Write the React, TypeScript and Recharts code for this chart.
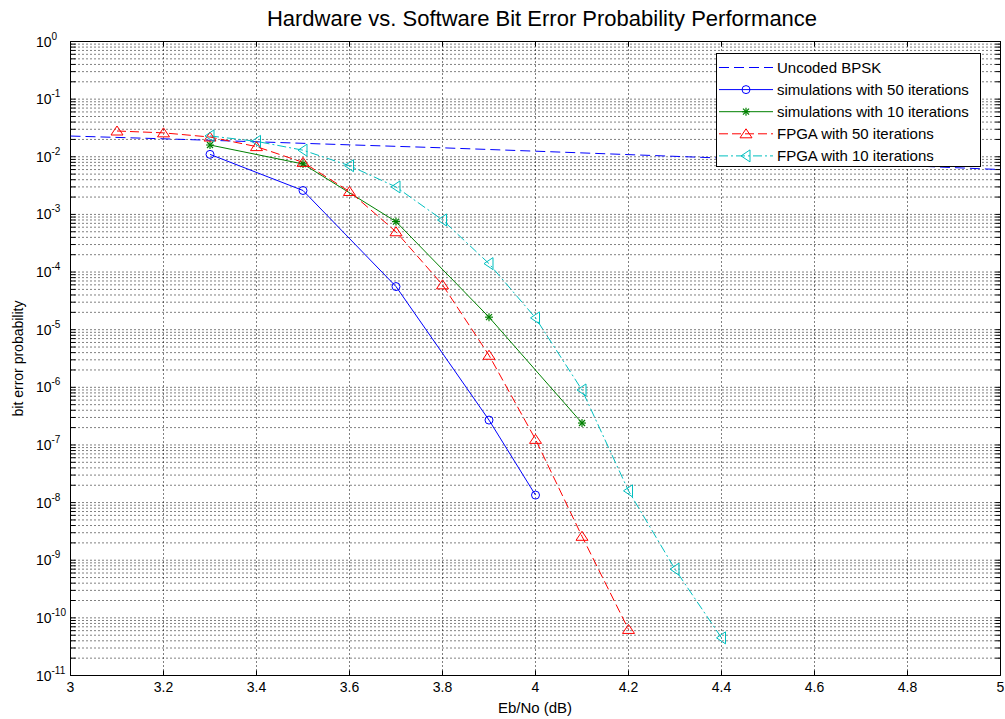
import React from 'react';
import { LineChart, Line, XAxis, YAxis, CartesianGrid, ReferenceLine, ReferenceArea, Legend } from 'recharts';

const FONT = '"Liberation Sans", Arial, Helvetica, sans-serif';

const TITLE = 'Hardware vs. Software Bit Error Probability Performance';
const X_LABEL = 'Eb/No (dB)';
const Y_LABEL = 'bit error probability';

const xTicks = [3, 3.2, 3.4, 3.6, 3.8, 4, 4.2, 4.4, 4.6, 4.8, 5];
const yExponents = [-11, -10, -9, -8, -7, -6, -5, -4, -3, -2, -1, 0];
const yTicks = yExponents.map((e) => Math.pow(10, e));

const seriesNames = [
  'Uncoded BPSK',
  'simulations with 50 iterations',
  'simulations with 10 iterations',
  'FPGA with 50 iterations',
  'FPGA with 10 iterations',
];

const bpskEbNo = [3, 3.2, 3.4, 3.6, 3.8, 4, 4.2, 4.4, 4.6, 4.8, 5];
const bpskBer = [0.0229, 0.0205, 0.0182, 0.0161, 0.0143, 0.0125, 0.0109, 0.0095, 0.0082, 0.007, 0.006];

const sim50EbNo = [3.3, 3.5, 3.7, 3.9, 4.0];
const sim50Ber = [1.1e-2, 2.6e-3, 5.6e-5, 2.7e-7, 1.35e-8];

const sim10EbNo = [3.3, 3.5, 3.7, 3.9, 4.1];
const sim10Ber = [1.6e-2, 7.5e-3, 7.5e-4, 1.65e-5, 2.4e-7];

const fpga50EbNo = [3.1, 3.2, 3.3, 3.4, 3.5, 3.6, 3.7, 3.8, 3.9, 4.0, 4.1, 4.2];
const fpga50Ber = [2.8e-2, 2.6e-2, 2.2e-2, 1.5e-2, 8.0e-3, 2.5e-3, 5.0e-4, 6.0e-5, 3.6e-6, 1.25e-7, 2.6e-9, 6.3e-11];

const fpga10EbNo = [3.3, 3.4, 3.5, 3.6, 3.7, 3.8, 3.9, 4.0, 4.1, 4.2, 4.3, 4.4];
const fpga10Ber = [2.3e-2, 1.85e-2, 1.3e-2, 7.0e-3, 3.0e-3, 8.0e-4, 1.4e-4, 1.6e-5, 9.0e-7, 1.6e-8, 7.0e-10, 4.5e-11];

const COLORS = ['#0000FF', '#0000FF', '#008000', '#FF0000', '#00BFBF'];
const DASHES = ['10 5', undefined, undefined, '9 4', '9 3 2 3'];

const toPoints = (xs: number[], ys: number[]) => xs.map((x, i) => ({ x, y: ys[i] }));

const minorValues: number[] = [];
yExponents.slice(0, -1).forEach((e) => {
  for (let k = 1; k <= 9; k++) minorValues.push(k * Math.pow(10, e));
});
minorValues.push(1);

const TICK_DX = 0.011; // inward tick length in x units
const TICK_FY = 1.22; // inward tick length as factor in y

type MarkerKind = 'none' | 'circle' | 'star' | 'triUp' | 'triLeft';
const MARKERS: MarkerKind[] = ['none', 'circle', 'star', 'triUp', 'triLeft'];

function Marker({ kind, cx, cy, color }: { kind: MarkerKind; cx: number; cy: number; color: string }) {
  if (kind === 'circle') return <circle cx={cx} cy={cy} r={4} fill="none" stroke={color} strokeWidth={1} />;
  if (kind === 'star')
    return (
      <g stroke={color} strokeWidth={1.2}>
        <line x1={cx} y1={cy - 4} x2={cx} y2={cy + 4} />
        <line x1={cx - 4} y1={cy} x2={cx + 4} y2={cy} />
        <line x1={cx - 3} y1={cy - 3} x2={cx + 3} y2={cy + 3} />
        <line x1={cx - 3} y1={cy + 3} x2={cx + 3} y2={cy - 3} />
      </g>
    );
  if (kind === 'triUp')
    return (
      <polygon
        points={`${cx},${cy - 5} ${cx - 6},${cy + 4} ${cx + 6},${cy + 4}`}
        fill="none"
        stroke={color}
        strokeWidth={1}
      />
    );
  if (kind === 'triLeft')
    return (
      <polygon
        points={`${cx - 5},${cy} ${cx + 4},${cy - 6} ${cx + 4},${cy + 6}`}
        fill="none"
        stroke={color}
        strokeWidth={1}
      />
    );
  return null;
}

const makeDot = (kind: MarkerKind, color: string) => (props: any) => {
  const { cx, cy, index } = props;
  if (cx == null || cy == null) return <g key={`d-${index}`} />;
  return (
    <g key={`d-${kind}-${index}`}>
      <Marker kind={kind} cx={cx} cy={cy} color={color} />
    </g>
  );
};

function YTick(props: any) {
  const { x, y, payload } = props;
  const exp = Math.round(Math.log10(payload.value));
  const bx = x - 19;
  return (
    <g>
      <text x={bx} y={y + 5} textAnchor="end" fontSize={14} fill="#000" fontFamily={FONT}>
        10
      </text>
      <text x={bx} y={y - 2} textAnchor="start" fontSize={10} fill="#000" fontFamily={FONT}>
        {String(exp)}
      </text>
    </g>
  );
}

function LegendBox() {
  const rowY = (i: number) => 14.5 + i * 22.1;
  return (
    <svg width={266} height={115} style={{ display: 'block' }}>
      <rect x={0.5} y={0.5} width={264} height={113} fill="#fff" stroke="#000" strokeWidth={1} />
      {seriesNames.map((name, i) => (
        <g key={name}>
          <line
            x1={3}
            y1={rowY(i)}
            x2={57}
            y2={rowY(i)}
            stroke={COLORS[i]}
            strokeWidth={1}
            strokeDasharray={DASHES[i]}
          />
          <Marker kind={MARKERS[i]} cx={30} cy={rowY(i)} color={COLORS[i]} />
          <text x={61} y={rowY(i) + 5} fontSize={15} fill="#000" fontFamily={FONT}>
            {name}
          </text>
        </g>
      ))}
    </svg>
  );
}

const seriesData = [
  toPoints(bpskEbNo, bpskBer),
  toPoints(sim50EbNo, sim50Ber),
  toPoints(sim10EbNo, sim10Ber),
  toPoints(fpga50EbNo, fpga50Ber),
  toPoints(fpga10EbNo, fpga10Ber),
];

export default function App() {
  return (
    <div style={{ position: 'absolute', left: 0, top: 0, width: 1005, height: 719, background: '#fff', fontFamily: FONT }}>
      <LineChart
        width={1005}
        height={719}
        margin={{ top: 41.5, right: 4.5, left: 0.5, bottom: 0 }}
        style={{ fontFamily: FONT }}
      >
        <CartesianGrid horizontal={false} vertical stroke="#000" strokeDasharray="1 3" />
        {minorValues.map((v) => (
          <ReferenceLine key={`g-${v}`} y={v} stroke="#000" strokeDasharray="1 3" strokeWidth={1} />
        ))}
        <XAxis
          type="number"
          dataKey="x"
          domain={[3, 5]}
          ticks={xTicks}
          allowDataOverflow
          axisLine={false}
          tickLine={false}
          tickSize={0}
          tickMargin={7}
          height={43.5}
          tick={{ fill: '#000', fontSize: 14, fontFamily: FONT }}
          tickFormatter={(v: number) => String(v)}
        />
        <YAxis
          type="number"
          dataKey="y"
          scale="log"
          domain={[1e-11, 1]}
          ticks={yTicks}
          allowDataOverflow
          axisLine={false}
          tickLine={false}
          tickSize={0}
          tickMargin={0}
          width={70}
          tick={<YTick />}
        />
        {minorValues.map((v) => (
          <ReferenceLine
            key={`tl-${v}`}
            segment={[{ x: 3, y: v }, { x: 3 + TICK_DX, y: v }]}
            stroke="#000"
            strokeWidth={1}
          />
        ))}
        {minorValues.map((v) => (
          <ReferenceLine
            key={`tr-${v}`}
            segment={[{ x: 5 - TICK_DX, y: v }, { x: 5, y: v }]}
            stroke="#000"
            strokeWidth={1}
          />
        ))}
        {xTicks.map((t) => (
          <ReferenceLine
            key={`tb-${t}`}
            segment={[{ x: t, y: 1e-11 }, { x: t, y: 1e-11 * TICK_FY }]}
            stroke="#000"
            strokeWidth={1}
          />
        ))}
        {xTicks.map((t) => (
          <ReferenceLine
            key={`tt-${t}`}
            segment={[{ x: t, y: 1 / TICK_FY }, { x: t, y: 1 }]}
            stroke="#000"
            strokeWidth={1}
          />
        ))}
        <ReferenceArea x1={3} x2={5} y1={1e-11} y2={1} fill="none" stroke="#000" strokeWidth={1} fillOpacity={0} />
        {seriesData.map((data, i) => (
          <Line
            key={seriesNames[i]}
            data={data}
            dataKey="y"
            name={seriesNames[i]}
            type="linear"
            stroke={COLORS[i]}
            strokeWidth={1}
            strokeDasharray={DASHES[i]}
            dot={MARKERS[i] === 'none' ? false : makeDot(MARKERS[i], COLORS[i])}
            activeDot={false}
            isAnimationActive={false}
          />
        ))}
        <Legend
          layout="vertical"
          align="center"
          verticalAlign="middle"
          content={() => <LegendBox />}
          wrapperStyle={{ position: 'absolute', left: 716, top: 53, width: 266, height: 115 }}
        />
      </LineChart>
      <svg
        width={1005}
        height={719}
        style={{ position: 'absolute', left: 0, top: 0, pointerEvents: 'none' }}
      >
        <text x={542} y={26} textAnchor="middle" fontSize={22} fill="#000" fontFamily={FONT}>
          {TITLE}
        </text>
        <text x={535} y={713} textAnchor="middle" fontSize={15} fill="#000" fontFamily={FONT}>
          {X_LABEL}
        </text>
        <text
          x={0}
          y={0}
          transform="translate(23, 358.5) rotate(-90)"
          textAnchor="middle"
          fontSize={14}
          fill="#000"
          fontFamily={FONT}
        >
          {Y_LABEL}
        </text>
      </svg>
    </div>
  );
}
